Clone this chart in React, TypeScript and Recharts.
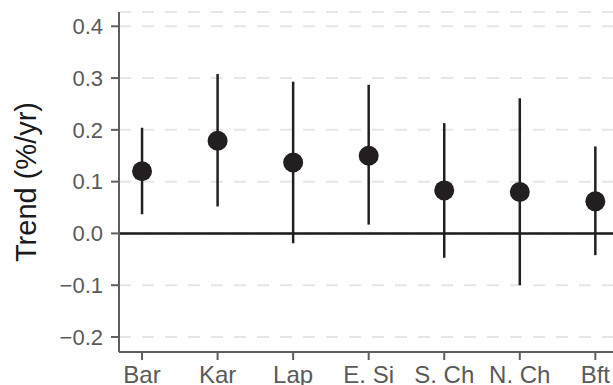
import React from "react";
import { ComposedChart, Scatter, ErrorBar, XAxis, YAxis, CartesianGrid, ReferenceLine } from "recharts";

const regions = ["Bar", "Kar", "Lap", "E. Si", "S. Ch", "N. Ch", "Bft"];
const trend = [0.12, 0.179, 0.137, 0.15, 0.083, 0.08, 0.062];
const lower = [0.037, 0.052, -0.019, 0.017, -0.047, -0.1, -0.042];
const upper = [0.204, 0.308, 0.293, 0.287, 0.213, 0.261, 0.168];
const yTicks = [-0.2, -0.1, 0, 0.1, 0.2, 0.3, 0.4];

const data = regions.map((r, i) => ({
  x: i + 1,
  y: trend[i],
  err: [trend[i] - lower[i], upper[i] - trend[i]],
}));

const FONT = "'Liberation Sans', Arial, Helvetica, sans-serif";
const AXIS = "#5e5e5e";
const INK = "#231f20";

const fmtY = (v: number) => (v < 0 ? "\u2212" + Math.abs(v).toFixed(1) : v.toFixed(1));

const Dot = (props: any) => <circle cx={props.cx} cy={props.cy} r={10} fill={INK} />;

export default function App() {
  return (
    <div style={{ position: "absolute", left: 0, top: 0, width: 613, height: 385, overflow: "hidden", background: "#fff" }}>
      <ComposedChart width={625} height={385} data={data} margin={{ top: 12, right: 7, bottom: 0, left: 0 }}
        style={{ fontFamily: FONT }}>
        <CartesianGrid vertical={false} stroke="#e6e6e6" strokeWidth={2} strokeDasharray="12 11" />
        <XAxis type="number" dataKey="x" domain={[0.695, 7.3]} ticks={[1, 2, 3, 4, 5, 6, 7]}
          tickFormatter={(v: number) => regions[v - 1]} allowDataOverflow height={33}
          axisLine={{ stroke: AXIS, strokeWidth: 2 }} tickLine={{ stroke: AXIS, strokeWidth: 2 }}
          tickSize={8} tickMargin={6} tick={{ fill: "#5a5a5a", fontSize: 24 }} />
        <XAxis xAxisId="top" orientation="top" type="number" dataKey="x" domain={[0.695, 7.3]} height={0}
          tick={false} tickLine={false} axisLine={{ stroke: AXIS, strokeWidth: 2 }} />
        <YAxis type="number" dataKey="y" domain={[-0.229, 0.4276]} ticks={yTicks} allowDataOverflow width={119}
          tickFormatter={fmtY} axisLine={{ stroke: AXIS, strokeWidth: 2 }} tickLine={{ stroke: AXIS, strokeWidth: 2 }}
          tickSize={8} tickMargin={8} tick={{ fill: "#5a5a5a", fontSize: 22 }}
          label={{ value: "Trend (%/yr)", angle: -90, position: "insideLeft", offset: 26,
            style: { textAnchor: "middle", fontSize: 29, fill: "#1a1a1a", fontFamily: FONT } }} />
        <ReferenceLine y={0} stroke="#1a1a1a" strokeWidth={2.5} />
        <Scatter dataKey="y" fill={INK} shape={Dot} isAnimationActive={false}>
          <ErrorBar dataKey="err" direction="y" width={0} stroke={INK} strokeWidth={2.5} isAnimationActive={false} />
        </Scatter>
      </ComposedChart>
    </div>
  );
}
